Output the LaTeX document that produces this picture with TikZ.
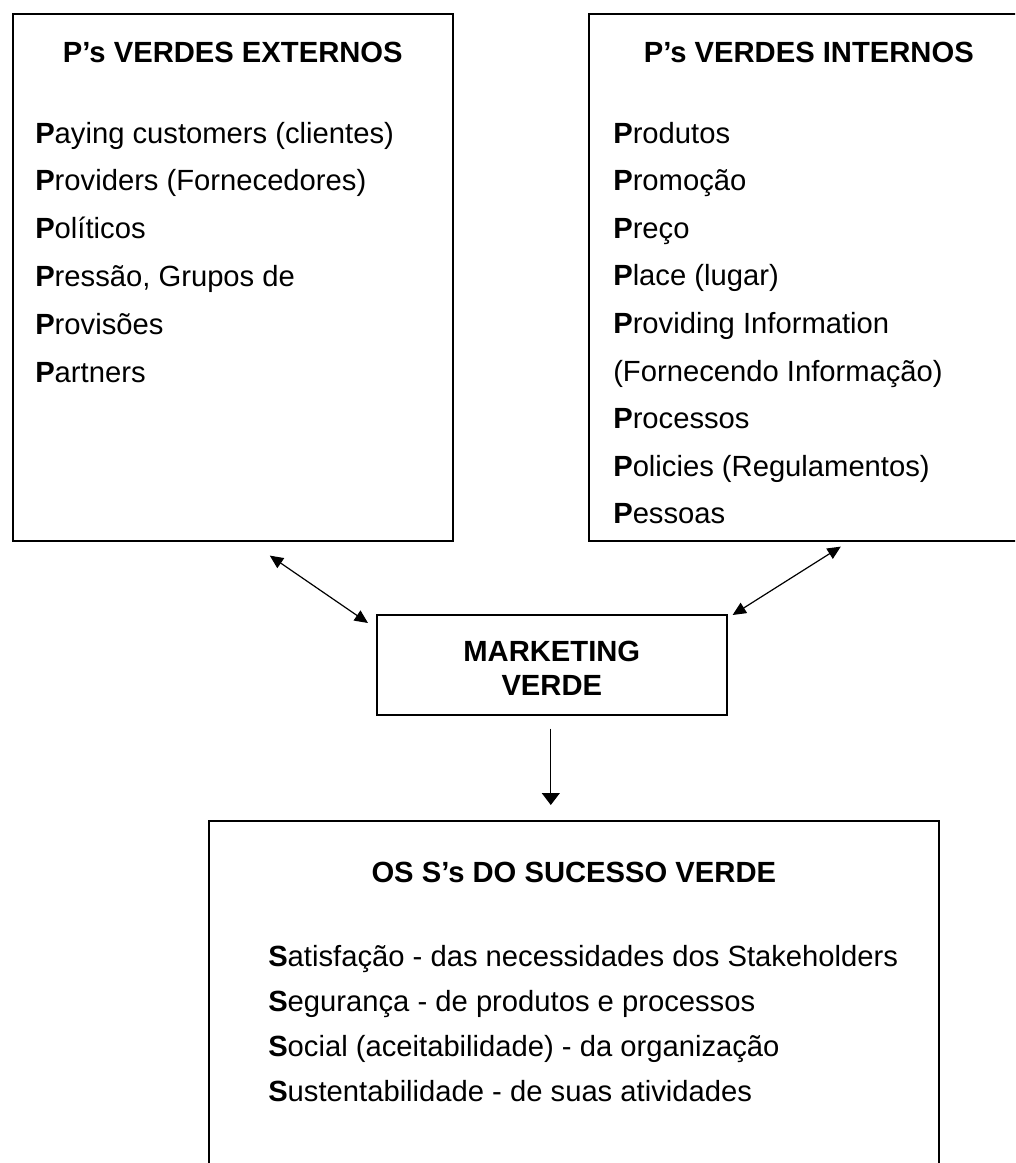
\documentclass[tikz,border=0pt]{standalone}
\usepackage{fontspec}
\setmainfont{Liberation Sans}
\usepackage{tikz}
\usetikzlibrary{arrows.meta}
\tikzset{
  caixa/.style = {rectangle, draw=black, line width=1.2pt, anchor=north west, inner sep=0pt},
  txt/.style   = {font=\fontsize{21.9pt}{26pt}\selectfont, inner sep=0pt, anchor=base west},
  tit/.style   = {font=\fontsize{21.9pt}{26pt}\selectfont\bfseries, inner sep=0pt, anchor=base},
  fl/.style    = {{Triangle[length=10pt,width=9pt]}-{Triangle[length=10pt,width=9pt]}, line width=0.9pt},
  fls/.style   = {-{Triangle[length=9pt,width=13.5pt]}, line width=0.9pt},
}

\begin{document}
\begin{tikzpicture}[x=0.75pt,y=-0.75pt]
  \clip (0,0) rectangle (1015,1163);

  \node[caixa, minimum width=330pt, minimum height=395.25pt] (ext) at (12,13) {};
  \node[tit] (text) at ([shift={(0,50)}]ext.north) {P’s VERDES EXTERNOS};
  \foreach \t [count=\i from 0] in {{\textbf{P}aying customers (clientes)},
      {\textbf{P}roviders (Fornecedores)}, {\textbf{P}olíticos},
      {\textbf{P}ressão, Grupos de}, {\textbf{P}rovisões}, {\textbf{P}artners}}
    \node[txt] (pe\i) at ([shift={(23,130+47.8*\i)}]ext.north west) {\t};

  \node[caixa, minimum width=330pt, minimum height=395.25pt] (int) at (588,13) {};
  \node[tit] (tint) at ([shift={(0,50)}]int.north) {P’s VERDES INTERNOS};
  \foreach \t [count=\i from 0] in {{\textbf{P}rodutos}, {\textbf{P}romoção},
      {\textbf{P}reço}, {\textbf{P}lace (lugar)}, {\textbf{P}roviding Information},
      {(Fornecendo Informação)}, {\textbf{P}rocessos},
      {\textbf{P}olicies (Regulamentos)}, {\textbf{P}essoas}}
    \node[txt] (pi\i) at ([shift={(25,130+47.6*\i)}]int.north west) {\t};

  \node[caixa, minimum width=262.5pt, minimum height=75pt] (mkt) at (376,614) {};
  \node[tit] (mkt1) at ([shift={(0,47)}]mkt.north) {MARKETING};
  \node[tit] (mkt2) at ([shift={(0,81.5)}]mkt.north) {VERDE};

  \node[caixa, minimum width=547.5pt, minimum height=270pt] (ss) at (208,820) {};
  \node[tit] (tss) at ([shift={(0,62)}]ss.north) {OS S’s DO SUCESSO VERDE};
  \foreach \t [count=\i from 0] in {{\textbf{S}atisfação - das necessidades dos Stakeholders},
      {\textbf{S}egurança - de produtos e processos},
      {\textbf{S}ocial (aceitabilidade) - da organização},
      {\textbf{S}ustentabilidade - de suas atividades}}
    \node[txt] (s\i) at ([shift={(60,146+45.3*\i)}]ss.north west) {\t};

  \draw[fl] ([shift={(37,14)}]ext.south) -- ([shift={(-8,9)}]mkt.north west);
  \draw[fl] ([shift={(32,5)}]int.south) -- ([shift={(5,1)}]mkt.north east);
  \draw[fls] ([shift={(-1,13)}]mkt.south) -- ([shift={(-23,-15)}]ss.north);

\end{tikzpicture}
\end{document}
